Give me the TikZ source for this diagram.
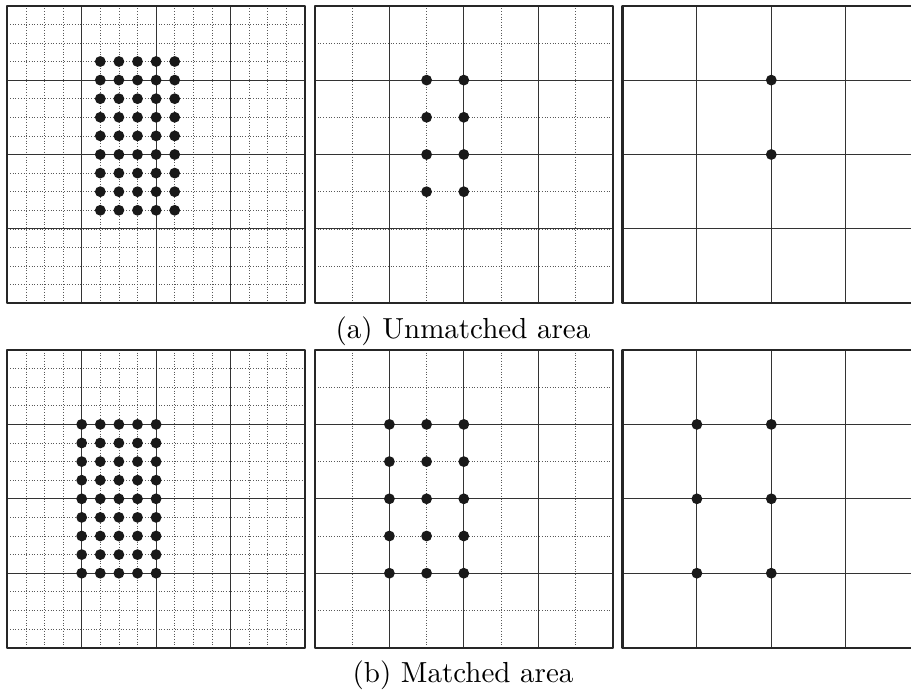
\documentclass[tikz,border=0pt]{standalone}
\begin{document}
\begin{tikzpicture}[x=1pt,y=-1pt,
  frame/.style={line width=2.2pt, black!85, line join=round},
  major/.style={line width=1.1pt, black!80},
  minor/.style={line width=0.7pt, black!65, dotted},
  dot/.style={fill=black!90},
  caption/.style={font=\fontsize{10}{12}\selectfont, scale=2.9, anchor=base, inner sep=0pt}]
\clip (0,0) rectangle (911,696);
\fill[white] (0,0) rectangle (911,696);
\def\S{297.6}
\foreach \Y in {5.7,350} {
  % panel 1: 16 subdivisions
  \foreach \k in {1,...,15} {
    \draw[minor] (7.3+\k*18.6,\Y) -- (7.3+\k*18.6,\Y+\S);
    \draw[minor] (7.3,\Y+\k*18.6) -- (7.3+\S,\Y+\k*18.6);
  }
  % panel 2: 8 subdivisions
  \foreach \k in {1,...,7} {
    \draw[minor] (315+\k*37.2,\Y) -- (315+\k*37.2,\Y+\S);
    \draw[minor] (315,\Y+\k*37.2) -- (315+\S,\Y+\k*37.2);
  }
  % major lines in all panels
  \foreach \X in {7.3,315,622.5} {
    \foreach \k in {1,2,3} {
      \draw[major] (\X+\k*74.4,\Y) -- (\X+\k*74.4,\Y+\S);
      \draw[major] (\X,\Y+\k*74.4) -- (\X+\S,\Y+\k*74.4);
    }
    \draw[frame] (\X,\Y) rectangle (\X+\S,\Y+\S);
  }
}
% dots, row (a)
\foreach \i in {5,...,9} \foreach \j in {3,...,11}
  \fill[dot] (7.3+\i*18.6,5.7+\j*18.6) circle[radius=5.4];
\foreach \i in {3,4} \foreach \j in {2,...,5}
  \fill[dot] (315+\i*37.2,5.7+\j*37.2) circle[radius=5.4];
\foreach \j in {1,2}
  \fill[dot] (622.5+2*74.4,5.7+\j*74.4) circle[radius=5.4];
% dots, row (b)
\foreach \i in {4,...,8} \foreach \j in {4,...,12}
  \fill[dot] (7.3+\i*18.6,350+\j*18.6) circle[radius=5.4];
\foreach \i in {2,3,4} \foreach \j in {2,...,6}
  \fill[dot] (315+\i*37.2,350+\j*37.2) circle[radius=5.4];
\foreach \i in {1,2} \foreach \j in {1,2,3}
  \fill[dot] (622.5+\i*74.4,350+\j*74.4) circle[radius=5.4];
% captions
\node[caption] (capa) at (463,338) {(a) Unmatched area};
\node[caption] (capb) at (463,682.5) {(b) Matched area};
\end{tikzpicture}
\end{document}
